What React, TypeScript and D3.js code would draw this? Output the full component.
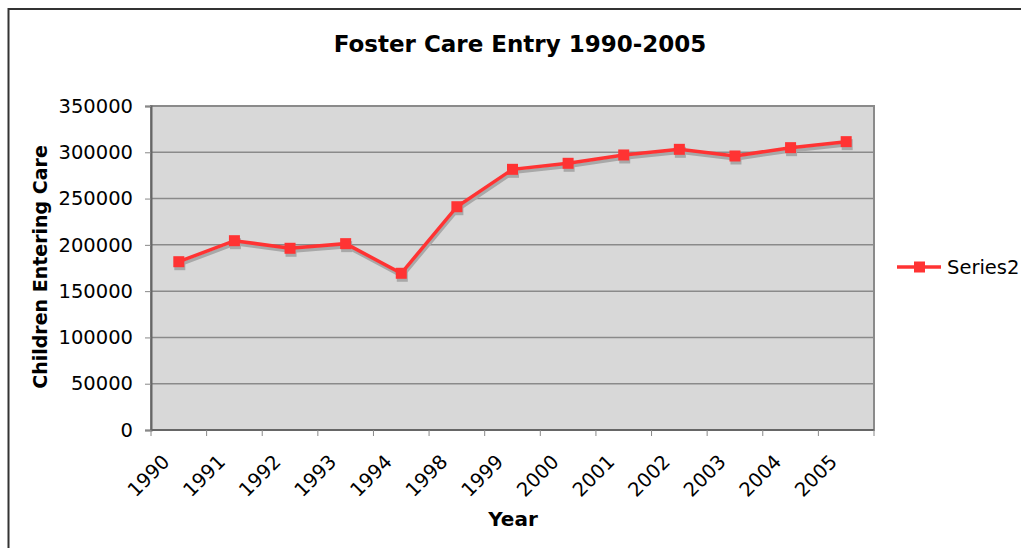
import React, { useEffect, useRef } from 'react';
import * as d3 from 'd3';

const years: string[] = ['1990', '1991', '1992', '1993', '1994', '1998', '1999', '2000', '2001', '2002', '2003', '2004', '2005'];
const entries: number[] = [181800, 204500, 196300, 201300, 169300, 241200, 281600, 288100, 297100, 303200, 296000, 305000, 311500];
const yTicks: number[] = [0, 50000, 100000, 150000, 200000, 250000, 300000, 350000];
const seriesName = 'Series2';

const App = () => {
  const ref = useRef<SVGSVGElement>(null);

  useEffect(() => {
    const svg = d3.select(ref.current);
    svg.selectAll('*').remove();

    const font = 'Verdana, "DejaVu Sans", sans-serif';
    const plot = { left: 151, top: 106, right: 874, bottom: 430 };

    // frame of the chart
    svg
      .append('rect')
      .attr('x', 8.5)
      .attr('y', 9)
      .attr('width', 1100)
      .attr('height', 700)
      .attr('fill', '#fff')
      .attr('stroke', '#333')
      .attr('stroke-width', 2);

    svg
      .append('text')
      .attr('x', 520)
      .attr('y', 52)
      .attr('text-anchor', 'middle')
      .attr('font-family', font)
      .attr('font-weight', 'bold')
      .attr('font-size', 23)
      .text('Foster Care Entry 1990-2005');

    const x = d3.scaleBand().domain(years).range([plot.left, plot.right]);
    const y = d3.scaleLinear().domain([0, 350000]).range([plot.bottom, plot.top]);

    svg
      .append('rect')
      .attr('x', plot.left)
      .attr('y', plot.top)
      .attr('width', plot.right - plot.left)
      .attr('height', plot.bottom - plot.top)
      .attr('fill', '#d8d8d8')
      .attr('stroke', '#8a8a8a')
      .attr('stroke-width', 2);

    // grid
    svg
      .append('g')
      .selectAll('line')
      .data(yTicks.slice(1, -1))
      .enter()
      .append('line')
      .attr('x1', plot.left)
      .attr('x2', plot.right)
      .attr('y1', (d) => y(d))
      .attr('y2', (d) => y(d))
      .attr('stroke', '#8a8a8a')
      .attr('stroke-width', 1.5);

    // y axis
    const yAxis = svg
      .append('g')
      .attr('transform', `translate(${plot.left},0)`)
      .call(d3.axisLeft(y).tickValues(yTicks).tickSize(6).tickPadding(12).tickFormat((d) => String(d)));
    yAxis.select('.domain').attr('stroke', '#666').attr('stroke-width', 2);
    yAxis.selectAll('.tick line').attr('stroke', '#888');
    yAxis.selectAll('text').attr('font-family', font).attr('font-size', 19.5).attr('fill', '#000');

    // x axis: ticks on category boundaries
    const xBottom = svg.append('g');
    xBottom
      .append('line')
      .attr('x1', plot.left)
      .attr('x2', plot.right)
      .attr('y1', plot.bottom)
      .attr('y2', plot.bottom)
      .attr('stroke', '#666')
      .attr('stroke-width', 2);
    xBottom
      .selectAll('.tk')
      .data(d3.range(years.length + 1))
      .enter()
      .append('line')
      .attr('x1', (i) => plot.left + i * x.step())
      .attr('x2', (i) => plot.left + i * x.step())
      .attr('y1', plot.bottom)
      .attr('y2', plot.bottom + 6)
      .attr('stroke', '#888');
    xBottom
      .selectAll('.lbl')
      .data(years)
      .enter()
      .append('text')
      .attr('transform', (d) => `translate(${(x(d) || 0) + x.bandwidth() / 2 - 8},${plot.bottom + 33}) rotate(-45)`)
      .attr('text-anchor', 'end')
      .attr('font-family', font)
      .attr('font-size', 19.5)
      .text((d) => d);

    svg
      .append('text')
      .attr('x', 513)
      .attr('y', 526)
      .attr('text-anchor', 'middle')
      .attr('font-family', font)
      .attr('font-weight', 'bold')
      .attr('font-size', 20)
      .text('Year');

    svg
      .append('text')
      .attr('transform', 'translate(47,267) rotate(-90)')
      .attr('text-anchor', 'middle')
      .attr('font-family', font)
      .attr('font-weight', 'bold')
      .attr('font-size', 19)
      .text('Children Entering Care');

    // series with shadow
    const cx = (d: string) => (x(d) || 0) + x.bandwidth() / 2;
    const pts: [number, number][] = years.map((d, i) => [cx(d), y(entries[i])]);
    const line = d3.line();

    const shadow = svg.append('g').attr('transform', 'translate(1,3)');
    shadow.append('path').attr('d', line(pts)).attr('fill', 'none').attr('stroke', '#a8a8a8').attr('stroke-width', 3.5);
    shadow
      .selectAll('rect')
      .data(pts)
      .enter()
      .append('rect')
      .attr('x', (p) => p[0] - 5.5)
      .attr('y', (p) => p[1] - 5.5)
      .attr('width', 11)
      .attr('height', 11)
      .attr('fill', '#a8a8a8');

    svg.append('path').attr('d', line(pts)).attr('fill', 'none').attr('stroke', '#ff3333').attr('stroke-width', 3.5);
    svg
      .append('g')
      .selectAll('rect')
      .data(pts)
      .enter()
      .append('rect')
      .attr('x', (p) => p[0] - 5.5)
      .attr('y', (p) => p[1] - 5.5)
      .attr('width', 11)
      .attr('height', 11)
      .attr('fill', '#ff3333');

    // legend
    const lg = svg.append('g').attr('transform', 'translate(897,267)');
    lg.append('line').attr('x1', 0).attr('x2', 44).attr('y1', 0).attr('y2', 0).attr('stroke', '#ff3333').attr('stroke-width', 3.5);
    lg.append('rect').attr('x', 17).attr('y', -5.5).attr('width', 11).attr('height', 11).attr('fill', '#ff3333');
    lg.append('text')
      .attr('x', 50)
      .attr('y', 7)
      .attr('font-family', font)
      .attr('font-size', 19.5)
      .text(seriesName);
  }, []);

  return (
    <svg
      ref={ref}
      width={1021}
      height={548}
      style={{ position: 'absolute', left: 0, top: 0, background: '#fff' }}
    />
  );
};

export default App;
